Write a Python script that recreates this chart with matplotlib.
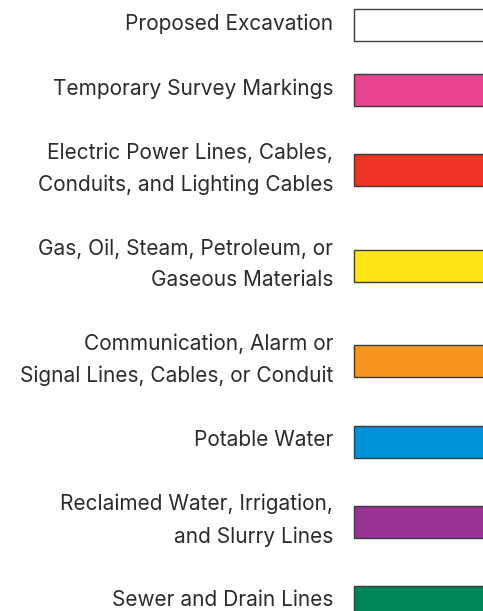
import numpy as np
import matplotlib.pyplot as plt

plt.rcParams['font.family'] = ['Inter', 'DejaVu Sans']

labels = [
    'Proposed Excavation',
    'Temporary Survey Markings',
    'Electric Power Lines, Cables,\nConduits, and Lighting Cables',
    'Gas, Oil, Steam, Petroleum, or\nGaseous Materials',
    'Communication, Alarm or\nSignal Lines, Cables, or Conduit',
    'Potable Water',
    'Reclaimed Water, Irrigation,\nand Slurry Lines',
    'Sewer and Drain Lines',
]
colors = ['#ffffff', '#e8438f', '#ee3224', '#ffe517', '#f7941e',
          '#0091d6', '#993393', '#00855b']

W, H = 483, 611
fig = plt.figure(figsize=(W / 100, H / 100), dpi=100)
ax = fig.add_axes([0, 0, 1, 1])
ax.set_xlim(0, W)
ax.set_ylim(H, 0)
ax.axis('off')

# row centers: gap grows with the number of text lines in neighbouring rows
nlines = np.array([l.count('\n') + 1 for l in labels])
gaps = 34.5 + 15.25 * (nlines[:-1] + nlines[1:])
centers = 25 + np.concatenate([[0], np.cumsum(gaps)])

ax.barh(centers, 200, left=354, height=32, color=colors,
        edgecolor='#3a3a3a', linewidth=1.0)

for y, lab in zip(centers, labels):
    ax.text(333, y - 1.5, lab, ha='right', va='center', fontsize=15,
            color='#2b2b2b', linespacing=1.72, multialignment='right')

fig.savefig('out.png', dpi=100)
